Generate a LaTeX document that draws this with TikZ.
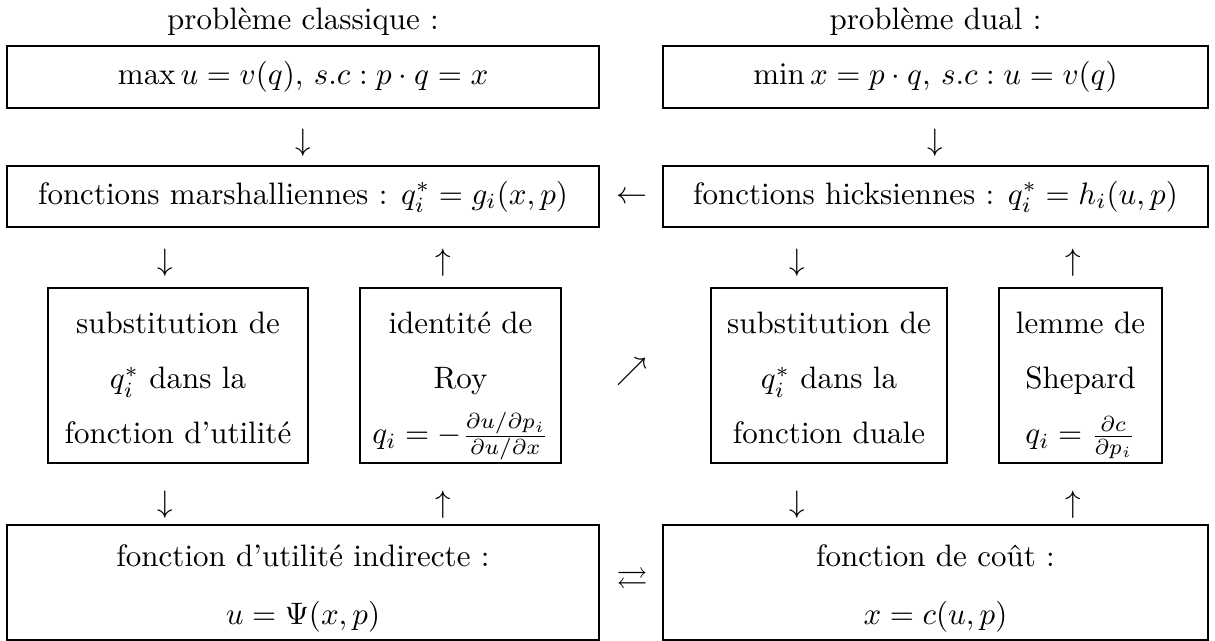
\documentclass[tikz,border=0pt]{standalone}
\usepackage{amsmath,amssymb}
\begin{document}
\begin{tikzpicture}[x=0.3226pt,y=-0.3226pt,
  bx/.style 2 args={draw, line width=0.6pt, inner sep=0pt,
    minimum width=#1*0.3226pt, minimum height=#2*0.3226pt, align=center},
  tall/.style={bx={#1}{175}},
  low/.style={bx={#1}{115}},
  ln/.style={inner sep=0pt, anchor=base},
  lbl/.style={inner sep=0pt},
  gl/.style={inner sep=0pt}]
\useasboundingbox (0,0) rectangle (1215,641);
% titles
\node[lbl] (t1) at (303,22) {problème classique :};
\node[lbl] (t2) at (935.5,22) {problème dual :};
% row 1
\node[bx={592}{62}] (b1) at (303,77) {$\max u = v(q),\,s.c : p\cdot q = x$};
\node[bx={545}{62}] (b1r) at (935.5,77) {$\min x = p\cdot q,\,s.c : u = v(q)$};
\node[gl] (a1) at (303,143) {$\downarrow$};
\node[gl] (a1r) at (935.5,143) {$\downarrow$};
% row 2
\node[bx={592}{61}] (b2) at (303,196.5) {fonctions marshalliennes : $q_i^* = g_i(x,p)$};
\node[bx={545}{61}] (b2r) at (935.5,196.5) {fonctions hicksiennes : $q_i^* = h_i(u,p)$};
\node[gl] (al) at (632,198) {$\leftarrow$};
% arrows row
\node[gl] (d1) at (165,263) {$\downarrow$};
\node[gl] (u1) at (443,263) {$\uparrow$};
\node[gl] (d2) at (797,263) {$\downarrow$};
\node[gl] (u2) at (1073,263) {$\uparrow$};
% middle boxes
\node[tall=260] (sa) at (178,375.5) {};
\node[ln] (sa1) at (178,334) {substitution de};
\node[ln] (sa2) at (178,389) {$q_i^*$ dans la};
\node[ln] (sa3) at (178,444) {fonction d'utilité};
\node[tall=201] (roy) at (460.5,375.5) {};
\node[ln] (roy1) at (460.5,334) {identité de};
\node[ln] (roy2) at (460.5,389) {Roy};
\node[ln] (roy3) at (460.5,444) {$q_i = -\frac{\partial u/\partial p_i}{\partial u/\partial x}$};
\node[tall=236] (sc) at (829,375.5) {};
\node[ln] (sc1) at (829,334) {substitution de};
\node[ln] (sc2) at (829,389) {$q_i^*$ dans la};
\node[ln] (sc3) at (829,444) {fonction duale};
\node[tall=163] (sh) at (1080.5,375.5) {};
\node[ln] (sh1) at (1080.5,334) {lemme de};
\node[ln] (sh2) at (1080.5,389) {Shepard};
\node[ln] (sh3) at (1080.5,444) {$q_i = \frac{\partial c}{\partial p_i}$};
\node[gl] (ne) at (632,372) {$\nearrow$};
% arrows row
\node[gl] (d3) at (165,505) {$\downarrow$};
\node[gl] (u3) at (443,505) {$\uparrow$};
\node[gl] (d4) at (797,505) {$\downarrow$};
\node[gl] (u4) at (1073,505) {$\uparrow$};
% bottom
\node[low=592] (bl) at (303,582.5) {};
\node[ln] (bl1) at (303,567) {fonction d'utilité indirecte :};
\node[ln] (bl2) at (303,625) {$u = \Psi(x,p)$};
\node[low=545] (br) at (935.5,582.5) {};
\node[ln] (br1) at (935.5,567) {fonction de coût :};
\node[ln] (br2) at (935.5,625) {$x = c(u,p)$};
\node[gl] (lr) at (632,581) {$\rightleftarrows$};
\end{tikzpicture}
\end{document}
